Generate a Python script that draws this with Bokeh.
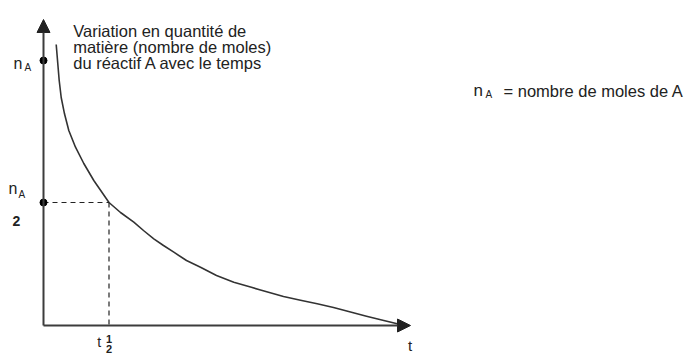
from bokeh.plotting import figure
from bokeh.models import Range1d, Arrow, NormalHead
from bokeh.core.properties import value
from bokeh.embed import file_html
from bokeh.resources import INLINE

# ---- data (schematic units: time t, quantity of matter n) ----
t_curve = [12.7, 14.3, 15.7, 17.7, 21.0, 25.3, 32.0, 40.3, 50.3, 65.5, 77.0, 90.3, 100.0,
           110.3, 120.0, 130.3, 143.0, 157.0, 173.0, 190.3, 207.0, 217.0, 240.0, 257.0,
           273.7, 290.0, 307.0, 323.0, 340.3, 353.7]
n_curve = [281.0, 261.7, 245.0, 228.0, 211.7, 195.0, 178.3, 162.0, 145.0, 123.0, 113.0, 103.3, 95.0,
           86.7, 80.0, 73.3, 65.0, 58.3, 50.0, 43.3, 38.5, 35.5, 29.0, 25.3,
           21.7, 18.0, 13.5, 9.3, 5.0, 1.7]

n_A = 265          # initial quantity
n_half = 123       # n_A / 2
t_half = 65.5      # half-life time
t_max = 367        # end of time axis
n_max = 306        # end of quantity axis

title_lines = ["Variation en quantité de",
               "matière (nombre de moles)",
               "du réactif A avec le temps"]
legend_text = "= nombre de moles de A"

ink = "#222222"
axis_col = "#3c3c3c"
font_v = value("Liberation Sans")

p = figure(width=689, height=354, x_range=Range1d(-43, 646), y_range=Range1d(-29, 325),
           output_backend="svg", toolbar_location=None, min_border=0,
           x_axis_type=None, y_axis_type=None)
p.grid.visible = False
p.outline_line_color = None
p.background_fill_color = "white"
p.border_fill_color = "white"

# axes with arrows
p.add_layout(Arrow(end=NormalHead(size=13, fill_color=ink, line_color=ink, line_width=1),
                   x_start=0, y_start=0, x_end=t_max, y_end=0,
                   line_color=axis_col, line_width=2))
p.add_layout(Arrow(end=NormalHead(size=13, fill_color=ink, line_color=ink, line_width=1),
                   x_start=0, y_start=0, x_end=0, y_end=n_max,
                   line_color=axis_col, line_width=2))

# curve
p.line(t_curve, n_curve, line_color="#333333", line_width=1.6, line_join="round")

# half-life construction
p.line([0, t_half], [n_half, n_half], line_color=ink, line_width=1.2, line_dash="5 4")
p.line([t_half, t_half], [n_half, 0], line_color=ink, line_width=1.2, line_dash="5 4")

# dots on y-axis
p.scatter([0, 0], [n_A, n_half], size=7, color="black")


def txt(x, y, s, size, align="left", style="normal"):
    p.text(x=[x], y=[y], text=[s], text_font=font_v, text_font_size=size,
           text_align=align, text_baseline="alphabetic", text_color=ink,
           text_font_style=style)


# title (three lines)
for i, line in enumerate(title_lines):
    txt(29.7, 295 - 16 * i, line, "16.5px")

# n_A label (top)
txt(-30, 262, "n", "16px")
txt(-19, 258, "A", "10px")

# n_A / 2 label
txt(-35, 137, "n", "16px")
txt(-25, 131, "A", "10px")
txt(-27, 105, "2", "14px", align="center", style="bold")

# time labels
txt(366.5, -20, "t", "15px", align="center")
txt(55.7, -16, "t", "14px", align="center")
txt(65.5, -13, "1", "11px", align="center", style="bold")
txt(65.5, -23, "2", "11px", align="center", style="bold")

# legend on the right
txt(430, 235, "n", "17px")
txt(442, 231, "A", "10px")
txt(460, 235, legend_text, "16.5px")

open("out.html", "w").write(file_html(p, INLINE))
